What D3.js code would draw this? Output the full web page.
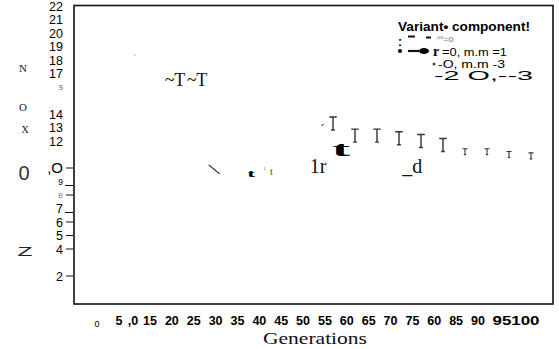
<!DOCTYPE html>
<html><head><meta charset="utf-8">
<script src="https://cdn.jsdelivr.net/npm/d3@7"></script>
<style>html,body{margin:0;padding:0;background:#fff;} svg{display:block;}</style>
</head><body><svg id="c" width="559" height="349"></svg>
<script>
// ---- data ----
const tildeGens = [20, 25];
const tildeValues = [16.5, 16.5];
const bigTGens = [55, 60, 65, 70, 75, 80];
const bigTValues = [13.3, 12.4, 12.4, 12.2, 12.0, 11.7];
const smallTGens = [85, 90, 95, 100];
const smallTValues = [11.2, 11.2, 11.0, 10.9];
const boldTGens = [36.4, 56.8];
const boldTValues = [9.6, 11.4];
const plainTGens = [41];
const plainTValues = [9.7];
const strayGens = [10, 51.6, 73];
const strayValues = [18.4, 10.1, 10.1];
const strayGlyphs = ["ı", "1r", "_d"];
const slashGens = [28];
const slashValues = [9.9];

const xTicks = [0, 5, 10, 15, 20, 25, 30, 35, 40, 45, 50, 55, 60, 65, 70, 75, 80, 85, 90, 95];
const xTickLabels = ["0", "5", ",0", "15", "20", "25", "30", "35", "40", "45", "50", "55", "60", "65", "70", "75", "60", "85", "90", "95100"];
const yTicks = [22, 21, 20, 19, 18, 17, 16, 14, 13, 12, 10, 9, 8, 7, 6, 5, 4, 2];
const yTickLabels = ["22", "21", "20", "19", "18", "17", "s", "14", "13", "12", ",O", "9", "e", "7", "6", "5", "4", "2"];
const yDashTicks = [10, 8, 6, 5, 4, 2];
const yUnderTicks = [9, 7];
const xTitle = "Generations";
const legendTitle = "Variant\u2022 component!";

// ---- drawing ----
const SANS = "'Liberation Sans', Arial, sans-serif";
const SERIF = "'Liberation Serif', 'Times New Roman', serif";
const svg = d3.select("#c");
const x = d3.scaleLinear().domain([0, 100]).range([91, 531]);
const y = d3.scaleLinear().domain([0, 22]).range([303, 6]);
const xLab = d3.scaleLinear().domain([0, 5, 10, 15, 90, 95]).range([97, 119, 133, 150, 478, 516]);

// frame
svg.append("rect").attr("x", 74).attr("y", 5.5).attr("width", 479).attr("height", 298.5)
  .attr("fill", "none").attr("stroke", "#111").attr("stroke-width", 1.6);

// x tick labels
svg.append("g").selectAll("text").data(xTicks).join("text")
  .attr("x", d => xLab(d)).attr("y", (d, i) => i === 0 ? 327 : 325)
  .attr("text-anchor", "middle")
  .attr("font-family", SANS)
  .attr("font-weight", (d, i) => i === 0 ? "normal" : "bold")
  .attr("font-size", (d, i) => i === 0 ? 9 : 12.5)
  .attr("fill", "#000")
  .attr("textLength", (d, i) => i === xTicks.length - 1 ? 47 : null)
  .attr("lengthAdjust", "spacingAndGlyphs")
  .text((d, i) => xTickLabels[i]);

// x title
svg.append("text").attr("x", 315).attr("y", 344).attr("text-anchor", "middle")
  .attr("font-family", SERIF).attr("font-size", 17).attr("fill", "#111")
  .attr("textLength", 104).attr("lengthAdjust", "spacingAndGlyphs")
  .text(xTitle);

// y tick labels
const yl = d3.scaleLinear().domain([2, 22]).range([276, 6]);
svg.append("g").selectAll("text").data(yTicks).join("text")
  .attr("x", 63).attr("y", d => yl(d)).attr("dy", "0.36em")
  .attr("text-anchor", "end")
  .attr("font-family", SANS)
  .attr("font-size", (d, i) => ["s", "9", "e"].includes(yTickLabels[i]) ? 8.5 : (yTickLabels[i] === ",O" ? 15 : 12.5))
  .attr("fill", (d, i) => ["s", "e"].includes(yTickLabels[i]) ? "#777" : "#000")
  .text((d, i) => yTickLabels[i]);
svg.append("g").selectAll("line").data(yDashTicks).join("line")
  .attr("x1", 66).attr("x2", 73).attr("y1", d => yl(d)).attr("y2", d => yl(d))
  .attr("stroke", "#111").attr("stroke-width", 1);
svg.append("g").selectAll("line").data(yUnderTicks).join("line")
  .attr("x1", 65).attr("x2", 73).attr("y1", d => yl(d) + 4).attr("y2", d => yl(d) + 4)
  .attr("stroke", "#111").attr("stroke-width", 1);

// y title fragments
const yt = svg.append("g").attr("fill", "#222");
yt.append("text").attr("x", 23).attr("y", 72).attr("text-anchor", "middle").attr("font-family", SERIF).attr("font-size", 11).text("N");
yt.append("text").attr("x", 23).attr("y", 111).attr("text-anchor", "middle").attr("font-family", SERIF).attr("font-size", 11).text("O");
yt.append("text").attr("x", 25).attr("y", 133).attr("text-anchor", "middle").attr("font-family", SERIF).attr("font-size", 10).text("X");
yt.append("text").attr("x", 24).attr("y", 180).attr("text-anchor", "middle").attr("font-family", SANS).attr("font-size", 20).attr("fill", "#333").text("0");
yt.append("text").attr("x", 25).attr("y", 256).attr("text-anchor", "middle").attr("font-family", SANS).attr("font-size", 13)
  .attr("textLength", 15).attr("lengthAdjust", "spacingAndGlyphs").text("Z");

// markers
const marks = svg.append("g").attr("fill", "#000");
marks.selectAll("text.tilde").data(tildeGens).join("text").attr("class", "tilde")
  .attr("x", d => x(d) - 4).attr("y", (d, i) => y(tildeValues[i]))
  .attr("dy", "0.34em").attr("text-anchor", "middle")
  .attr("font-family", SERIF).attr("font-size", 18).attr("fill", "#111").text("~T");

// T-shaped markers drawn as small paths (crossbar + stem + foot)
function tPath(cx, cy, w, h) {
  const top = cy - h / 2, bot = cy + h / 2;
  return `M${cx - w / 2},${top}H${cx + w / 2}M${cx},${top}V${bot}M${cx - w * 0.25},${bot}H${cx + w * 0.25}`;
}
marks.selectAll("path.bigT").data(bigTGens).join("path").attr("class", "bigT")
  .attr("d", (d, i) => tPath(x(d), y(bigTValues[i]), 7.5, 13))
  .attr("fill", "none").attr("stroke", "#333").attr("stroke-width", 1.4);
marks.selectAll("path.smallT").data(smallTGens).join("path").attr("class", "smallT")
  .attr("d", (d, i) => tPath(x(d), y(smallTValues[i]), 5, 6))
  .attr("fill", "none").attr("stroke", "#333").attr("stroke-width", 1.1);

marks.selectAll("text.boldT").data(boldTGens).join("text").attr("class", "boldT")
  .attr("x", (d, i) => x(d) - (i === 0 ? 4 : 9)).attr("y", (d, i) => y(boldTValues[i]))
  .attr("dy", "0.34em")
  .attr("textLength", (d, i) => i === 0 ? 8 : 18).attr("lengthAdjust", "spacingAndGlyphs")
  .attr("font-family", SERIF).attr("font-weight", "bold")
  .attr("font-size", (d, i) => i === 0 ? 10 : 21).text("t");
marks.selectAll("text.plainT").data(plainTGens).join("text").attr("class", "plainT")
  .attr("x", d => x(d)).attr("y", (d, i) => y(plainTValues[i]))
  .attr("dy", "0.34em").attr("text-anchor", "middle")
  .attr("font-family", SERIF).attr("font-size", 10).attr("fill", "#444").text("t");
marks.selectAll("text.plainOne").data(plainTGens).join("text").attr("class", "plainOne")
  .attr("x", d => x(d) - 7).attr("y", (d, i) => y(plainTValues[i]) - 2)
  .attr("text-anchor", "middle")
  .attr("font-family", SERIF).attr("font-size", 5).attr("fill", "#666").text("1");
marks.selectAll("text.stray").data(strayGens).join("text").attr("class", "stray")
  .attr("x", d => x(d)).attr("y", (d, i) => y(strayValues[i]))
  .attr("dy", "0.34em").attr("text-anchor", "middle")
  .attr("font-family", SERIF)
  .attr("font-size", (d, i) => i === 0 ? 5 : 20)
  .attr("fill", (d, i) => i === 0 ? "#777" : "#111")
  .text((d, i) => strayGlyphs[i]);
marks.selectAll("line.slash").data(slashGens).join("line").attr("class", "slash")
  .attr("x1", d => x(d) - 5.5).attr("x2", d => x(d) + 5.5)
  .attr("y1", (d, i) => y(slashValues[i]) - 4.5).attr("y2", (d, i) => y(slashValues[i]) + 4.5)
  .attr("stroke", "#222").attr("stroke-width", 1.2);
// small tick before first big T
marks.append("line").attr("x1", x(bigTGens[0]) - 12).attr("x2", x(bigTGens[0]) - 9)
  .attr("y1", y(bigTValues[0]) + 2).attr("y2", y(bigTValues[0]) + 1)
  .attr("stroke", "#555").attr("stroke-width", 1);

// legend
const lg = svg.append("g").attr("fill", "#000");
lg.append("text").attr("x", 398).attr("y", 31).attr("font-family", SANS).attr("font-weight", "bold")
  .attr("font-size", 12.5).attr("textLength", 132).attr("lengthAdjust", "spacingAndGlyphs").text(legendTitle);
// row 2
lg.append("text").attr("x", 398).attr("y", 46).attr("font-family", SANS).attr("font-weight", "bold").attr("font-size", 12).text(":");
lg.append("line").attr("x1", 408).attr("x2", 415).attr("y1", 36.5).attr("y2", 36.5).attr("stroke", "#111").attr("stroke-width", 2);
lg.append("line").attr("x1", 426).attr("x2", 431).attr("y1", 37.5).attr("y2", 37.5).attr("stroke", "#111").attr("stroke-width", 2);
const r2 = lg.append("text").attr("x", 437).attr("y", 42).attr("font-family", SANS).attr("fill", "#777");
r2.append("tspan").attr("font-size", 6).attr("dy", -3).text("ov");
r2.append("tspan").attr("font-size", 9).attr("dy", 3).text("=o");
// row 3
lg.append("circle").attr("cx", 400).attr("cy", 51).attr("r", 2);
lg.append("line").attr("x1", 408).attr("x2", 419).attr("y1", 51).attr("y2", 51).attr("stroke", "#111").attr("stroke-width", 2.2);
lg.append("ellipse").attr("cx", 424).attr("cy", 51).attr("rx", 5).attr("ry", 3);
lg.append("text").attr("x", 433).attr("y", 56).attr("font-family", SERIF).attr("font-weight", "bold").attr("font-size", 14).text("r");
lg.append("text").attr("x", 442).attr("y", 56).attr("font-family", SANS).attr("font-size", 10.5)
  .attr("textLength", 65).attr("lengthAdjust", "spacingAndGlyphs").text("=0,  m.m =1");
// row 4
lg.append("circle").attr("cx", 434).attr("cy", 64).attr("r", 1.5).attr("fill", "#444");
lg.append("text").attr("x", 438).attr("y", 67.5).attr("font-family", SANS).attr("font-size", 11)
  .attr("textLength", 67).attr("lengthAdjust", "spacingAndGlyphs").text("-O,  m.m -3");
// row 5
lg.append("text").attr("x", 434).attr("y", 80).attr("font-family", SANS).attr("font-size", 12.5)
  .attr("textLength", 99).attr("lengthAdjust", "spacingAndGlyphs").text("-2 O,--3");
</script></body></html>
